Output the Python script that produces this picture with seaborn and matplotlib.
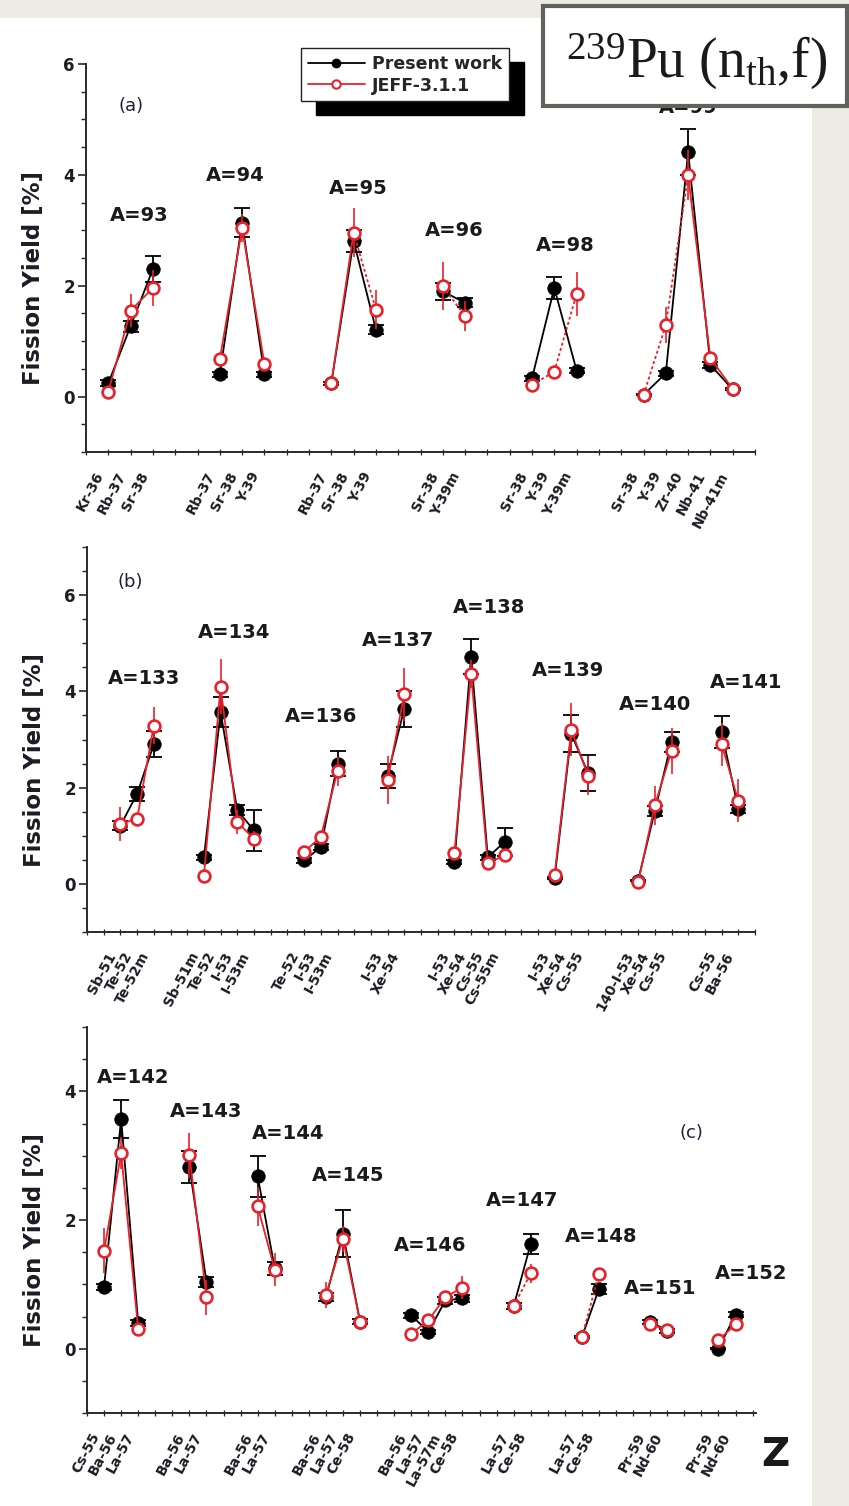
import matplotlib
matplotlib.use("Agg")
import matplotlib.pyplot as plt
import numpy as np
import pandas as pd
import seaborn as sns
from matplotlib.patches import Rectangle
from matplotlib.lines import Line2D
from matplotlib.transforms import ScaledTranslation

# ---------------- panel (a): light fragments A = 93 - 99 ----------------
MASS_A = [93, 94, 95, 96, 98, 99]
NUCLIDES_A = [["Kr-36", "Rb-37", "Sr-38"],
              ["Rb-37", "Sr-38", "Y-39"],
              ["Rb-37", "Sr-38", "Y-39"],
              ["Sr-38", "Y-39m"],
              ["Sr-38", "Y-39", "Y-39m"],
              ["Sr-38", "Y-39", "Zr-40", "Nb-41", "Nb-41m"]]
PRESENT_A = [[0.24, 1.27, 2.30], [0.40, 3.14, 0.40], [0.24, 2.81, 1.21],
             [1.90, 1.69], [0.33, 1.96, 0.47], [0.03, 0.42, 4.41, 0.57, 0.13]]
PRESENT_ERR_A = [[0.05, 0.10, 0.24], [0.05, 0.27, 0.05], [0.03, 0.20, 0.08],
                 [0.15, 0.08], [0.05, 0.20, 0.05], [0.01, 0.05, 0.42, 0.06, 0.02]]
JEFF_A = [[0.09, 1.55, 1.96], [0.67, 3.04, 0.59], [0.24, 2.96, 1.57],
          [1.99, 1.45], [0.21, 0.45, 1.85], [0.03, 1.29, 3.99, 0.69, 0.14]]
JEFF_ERR_A = [[0.03, 0.30, 0.33], [0.05, 0.25, 0.08], [0.03, 0.45, 0.35],
              [0.43, 0.27], [0.05, 0.05, 0.40], [0.01, 0.33, 0.45, 0.10, 0.03]]
JEFF_DOTTED_A = [[0, 0], [0, 0], [0, 1], [1], [1, 1], [1, 1, 0, 0]]

# ---------------- panel (b): heavy fragments A = 133 - 141 ----------------
MASS_B = [133, 134, 136, 137, 138, 139, 140, 141]
NUCLIDES_B = [["Sb-51", "Te-52", "Te-52m"],
              ["Sb-51m", "Te-52", "I-53", "I-53m"],
              ["Te-52", "I-53", "I-53m"],
              ["I-53", "Xe-54"],
              ["I-53", "Xe-54", "Cs-55", "Cs-55m"],
              ["I-53", "Xe-54", "Cs-55"],
              ["140-I-53", "Xe-54", "Cs-55"],
              ["Cs-55", "Ba-56"]]
PRESENT_B = [[1.21, 1.87, 2.90], [0.55, 3.57, 1.53, 1.11], [0.49, 0.76, 2.50],
             [2.25, 3.64], [0.45, 4.72, 0.55, 0.87], [0.12, 3.12, 2.30],
             [0.07, 1.51, 2.95], [3.16, 1.56]]
PRESENT_ERR_B = [[0.10, 0.15, 0.27], [0.05, 0.31, 0.10, 0.42], [0.05, 0.06, 0.26],
                 [0.25, 0.37], [0.04, 0.36, 0.05, 0.30], [0.02, 0.38, 0.38],
                 [0.02, 0.10, 0.20], [0.33, 0.08]]
JEFF_B = [[1.25, 1.35, 3.29], [0.17, 4.10, 1.28, 0.94], [0.66, 0.98, 2.34],
          [2.16, 3.94], [0.64, 4.36, 0.43, 0.59], [0.19, 3.20, 2.25],
          [0.03, 1.63, 2.76], [2.90, 1.73]]
JEFF_ERR_B = [[0.35, 0.08, 0.38], [0.03, 0.58, 0.25, 0.15], [0.10, 0.10, 0.30],
              [0.50, 0.55], [0.05, 0.30, 0.05, 0.08], [0.03, 0.55, 0.40],
              [0.01, 0.40, 0.47], [0.45, 0.45]]
JEFF_DOTTED_B = [[0, 0], [0, 0, 0], [0, 0], [0], [0, 0, 0], [0, 0], [0, 0], [0]]

# ---------------- panel (c): heavy fragments A = 142 - 152 ----------------
MASS_C = [142, 143, 144, 145, 146, 147, 148, 151, 152]
NUCLIDES_C = [["Cs-55", "Ba-56", "La-57"],
              ["Ba-56", "La-57"],
              ["Ba-56", "La-57"],
              ["Ba-56", "La-57", "Ce-58"],
              ["Ba-56", "La-57", "La-57m", "Ce-58"],
              ["La-57", "Ce-58"],
              ["La-57", "Ce-58"],
              ["Pr-59", "Nd-60"],
              ["Pr-59", "Nd-60"]]
PRESENT_C = [[0.96, 3.57, 0.40], [2.83, 1.04], [2.68, 1.25], [0.80, 1.79, 0.42],
             [0.52, 0.26, 0.75, 0.78], [0.66, 1.63], [0.18, 0.93], [0.42, 0.28],
             [0.00, 0.53]]
PRESENT_ERR_C = [[0.05, 0.29, 0.05], [0.25, 0.08], [0.32, 0.10], [0.06, 0.37, 0.04],
                 [0.04, 0.03, 0.06, 0.06], [0.05, 0.16], [0.02, 0.08], [0.03, 0.03],
                 [0.01, 0.04]]
JEFF_C = [[1.52, 3.04, 0.30], [3.01, 0.80], [2.21, 1.23], [0.83, 1.71, 0.42],
          [0.23, 0.44, 0.80, 0.95], [0.66, 1.17], [0.18, 1.16], [0.38, 0.29],
          [0.13, 0.38]]
JEFF_ERR_C = [[0.35, 0.25, 0.03], [0.35, 0.27], [0.30, 0.25], [0.20, 0.20, 0.04],
              [0.03, 0.05, 0.08, 0.18], [0.05, 0.15], [0.02, 0.08], [0.03, 0.03],
              [0.03, 0.05]]
JEFF_DOTTED_C = [[0, 0], [0], [0], [0, 0], [0, 0, 0], [1], [1], [0], [0]]

RED = "#e8212b"
INK = "#1c1c24"

sns.set_style("ticks")
plt.rcParams["font.family"] = ["DejaVu Sans"]
plt.rcParams["mathtext.fontset"] = "custom"
plt.rcParams["mathtext.rm"] = "Liberation Serif"
plt.rcParams["mathtext.it"] = "Liberation Serif:italic"

W, H = 849, 1506
fig = plt.figure(figsize=(W / 100, H / 100), dpi=100)
fig.patch.set_facecolor("#eeebe4")
# white sheet behind the plots
fig.add_artist(Rectangle((0, 0), 812 / W, (H - 18) / H, transform=fig.transFigure,
                         facecolor="white", edgecolor="none", zorder=-10))


def px_axes(left, top, right, bottom):
    return fig.add_axes([left / W, 1 - bottom / H, (right - left) / W, (bottom - top) / H])


def draw_panel(ax, masses, nuclides, present, present_err, jeff, jeff_err, dotted,
               start, xmax, ymin, ymax, yticks, group_labels, letter, letter_xy):
    rows, segs = [], []
    pos = start
    for m, names, p, pe, j, je, dts in zip(masses, nuclides, present, present_err,
                                           jeff, jeff_err, dotted):
        xs = list(range(pos, pos + len(names)))
        for k, x in enumerate(xs):
            rows.append(dict(group=m, x=x, name=names[k], present=p[k],
                             present_err=pe[k], jeff=j[k], jeff_err=je[k]))
        for k in range(len(xs) - 1):
            for kk in (k, k + 1):
                segs.append(dict(seg=f"{m}-{k}", x=xs[kk], y=j[kk],
                                 ls="dot" if dts[k] else "solid"))
        # two empty slots between neighbouring mass chains
        pos = xs[-1] + 3
    df = pd.DataFrame(rows)
    sg = pd.DataFrame(segs)

    ax.errorbar(df["x"], df["present"], yerr=df["present_err"], fmt="none",
                ecolor="black", elinewidth=1.3, capsize=5.5, capthick=1.3, zorder=2)
    sns.lineplot(data=df, x="x", y="present", units="group", estimator=None, sort=False,
                 color="black", lw=1.3, ax=ax, zorder=3, legend=False)
    sns.scatterplot(data=df, x="x", y="present", color="black", edgecolor="black",
                    s=95, linewidth=0.5, ax=ax, zorder=3, legend=False)
    ax.errorbar(df["x"], df["jeff"], yerr=df["jeff_err"], fmt="none",
                ecolor=RED, elinewidth=1.2, capsize=0, zorder=4)
    sns.lineplot(data=sg, x="x", y="y", units="seg", estimator=None, sort=False,
                 style="ls", dashes={"solid": "", "dot": (1.6, 1.4)},
                 color=RED, lw=1.3, ax=ax, zorder=5, legend=False)
    sns.scatterplot(data=df, x="x", y="jeff", color="white", edgecolor=RED,
                    s=72, linewidth=1.9, ax=ax, zorder=6, legend=False)

    ax.set_xlim(0, xmax)
    ax.set_ylim(ymin, ymax)
    ax.set_facecolor("none")
    sns.despine(ax=ax)
    for sp in ("left", "bottom"):
        ax.spines[sp].set_linewidth(1.4)
        ax.spines[sp].set_color("#2a2a2a")

    ax.set_yticks(yticks)
    ax.set_yticklabels([f"{t:g}" for t in yticks], fontsize=12, fontweight="bold",
                       color=INK)
    ax.set_yticks(np.arange(ymin, ymax + 0.01, 0.5), minor=True)
    ax.tick_params(axis="y", which="major", direction="out", length=6, width=1.2, pad=2)
    ax.tick_params(axis="y", which="minor", direction="out", length=3.5, width=1.0)

    ax.set_xticks(df["x"].tolist())
    ax.set_xticklabels(df["name"].tolist(), fontsize=10, fontweight="bold", color=INK)
    ax.set_xticks(np.arange(0, int(xmax) + 1), minor=True)
    ax.tick_params(axis="x", which="both", direction="inout", length=4, width=0.9, pad=13)
    shift = ScaledTranslation(-0.08, 0, fig.dpi_scale_trans)
    for lbl in ax.get_xticklabels():
        lbl.set_rotation(62)
        lbl.set_ha("right")
        lbl.set_va("center")
        lbl.set_rotation_mode("anchor")
        lbl.set_transform(lbl.get_transform() + shift)

    ax.set_xlabel("")
    ax.set_ylabel("Fission Yield [%]", fontsize=16.5, fontweight="bold", color=INK)
    ax.yaxis.set_label_coords(-0.062, 0.448)

    for m, (tx, ty) in zip(masses, group_labels):
        ax.text(tx, ty, f"A={m}", fontsize=14, fontweight="bold", color="#1a1a1a",
                ha="center", va="center", zorder=7)
    ax.text(letter_xy[0], letter_xy[1], letter, fontsize=13, color="#20203a",
            ha="center", va="center")


ax_a = px_axes(86, 64, 755, 452)
ax_b = px_axes(87, 547, 755, 932)
ax_c = px_axes(87, 1027, 756, 1413)

draw_panel(ax_a, MASS_A, NUCLIDES_A, PRESENT_A, PRESENT_ERR_A, JEFF_A, JEFF_ERR_A,
           JEFF_DOTTED_A, start=1, xmax=30, ymin=-1, ymax=6, yticks=[0, 2, 4, 6],
           group_labels=[(2.4, 3.26), (6.7, 3.99), (12.2, 3.75), (16.5, 2.99),
                         (21.5, 2.72), (27.0, 5.22)],
           letter="(a)", letter_xy=(2.0, 5.25))
draw_panel(ax_b, MASS_B, NUCLIDES_B, PRESENT_B, PRESENT_ERR_B, JEFF_B, JEFF_ERR_B,
           JEFF_DOTTED_B, start=2, xmax=40, ymin=-1, ymax=7, yticks=[0, 2, 4, 6],
           group_labels=[(3.4, 4.27), (8.8, 5.23), (14.0, 3.48), (18.6, 5.06),
                         (24.1, 5.75), (28.8, 4.44), (34.0, 3.73), (39.5, 4.19)],
           letter="(b)", letter_xy=(2.6, 6.27))
draw_panel(ax_c, MASS_C, NUCLIDES_C, PRESENT_C, PRESENT_ERR_C, JEFF_C, JEFF_ERR_C,
           JEFF_DOTTED_C, start=1, xmax=39.2, ymin=-1, ymax=5, yticks=[0, 2, 4],
           group_labels=[(2.7, 4.21), (7.0, 3.69), (11.8, 3.35), (15.3, 2.69),
                         (20.1, 1.61), (25.5, 2.31), (30.1, 1.75), (33.6, 0.94),
                         (38.9, 1.17)],
           letter="(c)", letter_xy=(35.4, 3.35))

# legend with a solid drop shadow
handles = [Line2D([], [], color="black", lw=1.3, marker="o", markersize=6,
                  markerfacecolor="black", markeredgecolor="black"),
           Line2D([], [], color=RED, lw=1.3, marker="o", markersize=6,
                  markerfacecolor="white", markeredgecolor=RED, markeredgewidth=1.5)]
leg = ax_a.legend(handles, ["Present work", "JEFF-3.1.1"], loc="upper left",
                  bbox_to_anchor=(0.321, 1.041), borderaxespad=0, frameon=True,
                  fancybox=False, handlelength=3.3, handletextpad=0.4,
                  borderpad=0.4, labelspacing=0.2,
                  prop={"weight": "bold", "size": 12.5},
                  shadow={"ox": 11, "oy": -10, "color": "black", "alpha": 1.0})
leg.get_frame().set_edgecolor("#222222")
leg.get_frame().set_linewidth(1.0)
leg.set_zorder(20)

# reaction tag in the top right corner
fig.add_artist(Rectangle((543 / W, 1 - 106 / H), (847 - 543) / W, 100 / H,
                         transform=fig.transFigure, facecolor="white",
                         edgecolor="#62625d", linewidth=3.0, zorder=30, clip_on=False))
fig.text(697 / W, 1 - 78 / H, r"$^{239}$Pu (n$_{\mathrm{th}}$,f)", fontsize=40,
         family="Liberation Serif", color="#1a1a1a", ha="center", va="baseline",
         zorder=31)

fig.text(775 / W, 1 - 1455 / H, "Z", fontsize=28, fontweight="bold", color="#1a1a1a",
         ha="center", va="center")

fig.savefig("out.png", dpi=100, facecolor=fig.get_facecolor())
